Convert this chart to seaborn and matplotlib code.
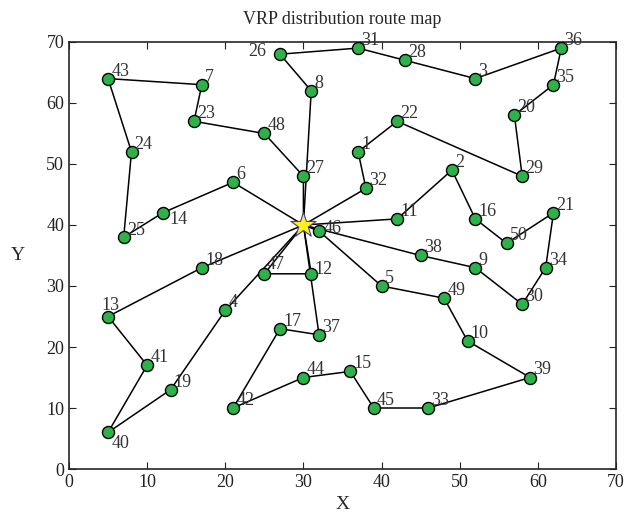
import numpy as np
import pandas as pd
import matplotlib
matplotlib.use('Agg')
import matplotlib.pyplot as plt
import seaborn as sns

# customer coordinates
node_id = [1, 2, 3, 4, 5, 6, 7, 8, 9, 10,
           11, 12, 13, 14, 15, 16, 17, 18, 19, 20,
           21, 22, 23, 24, 25, 26, 27, 28, 29, 30,
           31, 32, 33, 34, 35, 36, 37, 38, 39, 40,
           41, 42, 43, 44, 45, 46, 47, 48, 49, 50]
node_x = [37, 49, 52, 20, 40, 21, 17, 31, 52, 51,
          42, 31, 5, 12, 36, 52, 27, 17, 13, 57,
          62, 42, 16, 8, 7, 27, 30, 43, 58, 58,
          37, 38, 46, 61, 62, 63, 32, 45, 59, 5,
          10, 21, 5, 30, 39, 32, 25, 25, 48, 56]
node_y = [52, 49, 64, 26, 30, 47, 63, 62, 33, 21,
          41, 32, 25, 42, 16, 41, 23, 33, 13, 58,
          42, 57, 57, 52, 38, 68, 48, 67, 48, 27,
          69, 46, 10, 33, 63, 69, 22, 35, 15, 6,
          17, 10, 64, 15, 10, 39, 32, 55, 28, 37]
depot = (30, 40)

# routes, 0 = depot
routes = [
    [0, 27, 48, 23, 7, 43, 24, 25, 14, 6, 0],
    [0, 8, 26, 31, 28, 3, 36, 35, 20, 29, 22, 1, 32, 0],
    [0, 11, 2, 16, 50, 21, 34, 30, 9, 38, 0],
    [0, 46, 5, 49, 10, 39, 33, 45, 15, 44, 42, 17, 37, 0],
    [0, 12, 47, 0],
    [0, 4, 19, 40, 41, 13, 18, 0],
]

# label offsets that differ from the default (up-right)
label_off = {14: (0.8, -1.8), 40: (0.5, -2.6), 13: (-0.8, 1.1), 26: (-4.0, -0.3),
             25: (0.4, 0.3), 46: (0.6, -0.3), 12: (0.4, 0.0), 47: (0.3, 0.8)}

pos = {0: depot}
for i, x, y in zip(node_id, node_x, node_y):
    pos[i] = (x, y)

rows = []
for r, route in enumerate(routes):
    for k, n in enumerate(route):
        rows.append({'route': r, 'order': k, 'x': pos[n][0], 'y': pos[n][1]})
route_df = pd.DataFrame(rows)
nodes_df = pd.DataFrame({'id': node_id, 'x': node_x, 'y': node_y})

sns.set_style('ticks')
plt.rcParams['font.family'] = ['Liberation Serif', 'DejaVu Serif']

fig = plt.figure(figsize=(6.37, 5.21), dpi=100)
ax = fig.add_axes([0.1083, 0.0998, 0.8587, 0.8196])

for r in range(len(routes)):
    sub = route_df[route_df['route'] == r]
    sns.lineplot(data=sub, x='x', y='y', sort=False, estimator=None,
                 color='black', linewidth=1.1, ax=ax, zorder=2)

sns.scatterplot(data=nodes_df, x='x', y='y', s=75, color='#2db24a',
                edgecolor='black', linewidth=1.0, ax=ax, zorder=3)
ax.scatter([depot[0]], [depot[1]], marker='*', s=360, color='#ffef1a',
           edgecolor='#3a3aa8', linewidth=0.8, zorder=4)

for i, x, y in zip(node_id, node_x, node_y):
    dx, dy = label_off.get(i, (0.4, 0.5))
    ax.text(x + dx, y + dy, str(i), fontsize=13, color='#333333', zorder=5,
            clip_on=False)

ax.set_xlim(0, 70)
ax.set_ylim(0, 70)
ax.set_xticks(np.arange(0, 71, 10))
ax.set_yticks(np.arange(0, 71, 10))
ax.tick_params(direction='in', top=True, right=True, labelsize=13, length=5,
               width=0.8, colors='#222222')
for s in ax.spines.values():
    s.set_linewidth(1.2)
ax.set_title('VRP distribution route map', fontsize=13, pad=13)
ax.set_xlabel('X', fontsize=14)
ax.set_ylabel('Y', fontsize=14, rotation=0, labelpad=20, va='center')

fig.savefig('out.png', dpi=100)
